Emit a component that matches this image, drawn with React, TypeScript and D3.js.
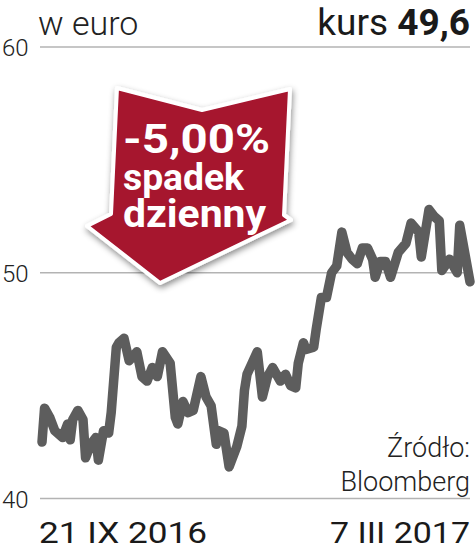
import React, { useEffect, useRef } from 'react';
import * as d3 from 'd3';

// dni od 21 IX 2016
const days = [0, 1, 3, 5, 8, 10, 11, 12, 14, 16, 17, 19, 21, 22, 24, 26, 27, 29, 30, 32,
  34, 37, 39, 41, 43, 45, 47, 50, 52, 53, 55, 57, 59, 62, 64, 66, 68, 69, 71, 73,
  76, 78, 79, 80, 82, 84, 86, 88, 90, 93, 95, 97, 99, 100, 102, 103, 106, 107, 109, 111,
  113, 115, 117, 119, 121, 123, 125, 127, 129, 130, 132, 134, 136, 139, 142, 144, 147, 148, 151, 153,
  155, 156, 159, 162, 163, 167];
const kurs = [42.5, 44.0, 43.6, 43.0, 42.7, 43.3, 42.6, 43.5, 43.9, 43.5, 41.8, 42.4, 42.7, 41.7, 43.0, 42.9, 43.8, 46.7, 46.9, 47.1,
  46.1, 46.5, 45.4, 45.2, 45.8, 45.4, 46.5, 46.0, 43.6, 43.3, 44.3, 43.8, 43.9, 45.4, 44.5, 44.1, 42.4, 43.0, 42.9, 41.4,
  42.3, 43.2, 44.8, 45.5, 46.0, 46.5, 44.5, 45.4, 45.8, 45.2, 45.5, 45.0, 44.9, 46.0, 46.9, 46.6, 46.7, 47.5, 48.9, 48.9,
  50.0, 50.3, 51.8, 50.9, 50.6, 50.4, 51.1, 51.1, 50.6, 49.8, 50.5, 50.5, 49.8, 50.9, 51.3, 52.2, 51.8, 50.7, 52.8, 52.5,
  52.3, 50.1, 50.6, 50.0, 52.1, 49.6];
const yTicks = [40, 50, 60];
const dateLabels = ['21 IX 2016', '7 III 2017'];
const badge = ['-5,00%', 'spadek', 'dzienny'];

export default function App() {
  const svgRef = useRef<SVGSVGElement>(null);

  useEffect(() => {
    const svg = d3.select(svgRef.current);
    svg.selectAll('*').remove();
    const width = 476;
    const height = 550;
    svg.attr('width', width).attr('height', height);

    const x = d3.scaleLinear().domain([0, 167]).range([42, 470]);
    const y = d3.scaleLinear().domain([40, 60]).range([498.5, 47]);

    const defs = svg.append('defs');
    const f = defs.append('filter').attr('id', 'cien').attr('x', '-20%').attr('y', '-20%').attr('width', '140%').attr('height', '140%');
    f.append('feDropShadow').attr('dx', 1).attr('dy', 3).attr('stdDeviation', 3).attr('flood-color', '#000').attr('flood-opacity', 0.45);

    // siatka
    svg.append('g').selectAll('line').data(yTicks).enter().append('line')
      .attr('x1', 40).attr('x2', 470)
      .attr('y1', d => y(d)).attr('y2', d => y(d))
      .attr('stroke', '#b3b3b3').attr('stroke-width', 1.5);

    svg.append('g').selectAll('text').data(yTicks).enter().append('text')
      .attr('x', 2).attr('y', d => y(d) + 9)
      .attr('font-family', 'Roboto').attr('font-weight', 300).attr('font-size', 24)
      .attr('fill', '#222').text(d => d);

    // naglowek
    svg.append('text').attr('x', 38).attr('y', 35)
      .attr('font-family', 'Roboto').attr('font-weight', 300).attr('font-size', 34)
      .attr('fill', '#222').text('w euro');
    const k = svg.append('text').attr('x', 470).attr('y', 35).attr('text-anchor', 'end')
      .attr('font-family', 'Roboto').attr('font-size', 37).attr('fill', '#1a1a1a');
    k.append('tspan').text('kurs ');
    k.append('tspan').attr('font-weight', 700).text(d3.format('.1f')(kurs[kurs.length - 1]).replace('.', ','));

    // linia kursu
    const line = d3.line<number>().x((d, i) => x(days[i])).y(d => y(d));
    svg.append('path').datum(kurs)
      .attr('d', line)
      .attr('fill', 'none')
      .attr('stroke', '#5d5d5d')
      .attr('stroke-width', 9.5)
      .attr('stroke-linejoin', 'round')
      .attr('stroke-linecap', 'round');

    // strzalka
    const arrow = [[117, 88], [202, 110], [290, 89], [284, 215], [291, 220], [160, 283], [87, 226], [111, 214]];
    svg.append('polygon')
      .attr('points', arrow.map(p => p.join(',')).join(' '))
      .attr('fill', '#a6122f')
      .attr('stroke', '#fff')
      .attr('stroke-width', 4)
      .attr('stroke-linejoin', 'round')
      .attr('filter', 'url(#cien)');

    const lens = [147, 121, 143];
    const bases = [153, 190, 227];
    const sizes = [40, 37, 38];
    svg.append('g').selectAll('text').data(badge).enter().append('text')
      .attr('x', 123).attr('y', (d, i) => bases[i])
      .attr('textLength', (d, i) => lens[i])
      .attr('lengthAdjust', 'spacingAndGlyphs')
      .attr('font-family', 'Roboto').attr('font-weight', 700)
      .attr('font-size', (d, i) => sizes[i])
      .attr('fill', '#fff').text(d => d);

    // zrodlo
    svg.append('text').attr('x', 470).attr('y', 457).attr('text-anchor', 'end')
      .attr('font-family', 'Roboto').attr('font-weight', 300).attr('font-size', 27)
      .attr('fill', '#222').text('Źródło:');
    svg.append('text').attr('x', 470).attr('y', 491).attr('text-anchor', 'end')
      .attr('font-family', 'Roboto').attr('font-weight', 300).attr('font-size', 27)
      .attr('fill', '#222').text('Bloomberg');

    // daty
    svg.append('text').attr('x', 39).attr('y', 543).attr('textLength', 168)
      .attr('lengthAdjust', 'spacingAndGlyphs')
      .attr('font-family', 'Roboto').attr('font-size', 30).attr('fill', '#1a1a1a').text(dateLabels[0]);
    svg.append('text').attr('x', 330).attr('y', 543).attr('textLength', 140)
      .attr('lengthAdjust', 'spacingAndGlyphs')
      .attr('font-family', 'Roboto').attr('font-size', 30).attr('fill', '#1a1a1a').text(dateLabels[1]);
  }, []);

  return (
    <div style={{ position: 'absolute', left: 0, top: 0, background: '#fff' }}>
      <svg ref={svgRef} style={{ display: 'block' }}></svg>
    </div>
  );
}
